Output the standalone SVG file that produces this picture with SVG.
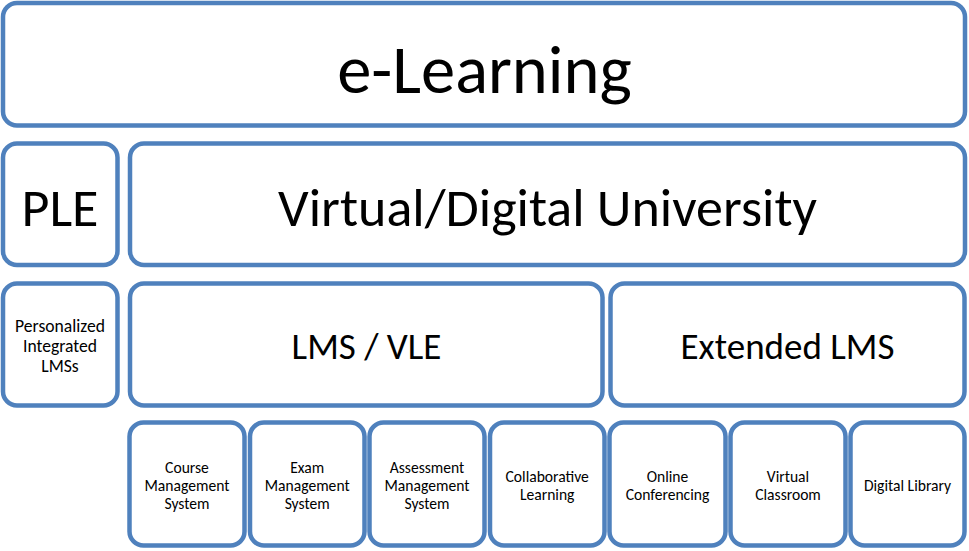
<svg xmlns="http://www.w3.org/2000/svg" width="969" height="551" viewBox="0 0 969 551">
<style>
.box{fill:#ffffff;stroke:#4F81BD;stroke-width:4.5}
text{font-family:Carlito,Calibri,Lato,"Liberation Sans",sans-serif;fill:#000000;text-anchor:middle}
.t1{font-size:68.5px}
.t2{font-size:54px}
.t3{font-size:37px}
.t4{font-size:17.6px}
.t5{font-size:15.6px}
</style>
<rect width="969" height="551" fill="#ffffff"/>
<g id="e-learning"><rect class="box" x="3" y="3" width="962" height="122.5" rx="14"/><text class="t1" x="484.5" y="93">e-Learning</text></g>
<g id="ple"><rect class="box" x="3" y="143.5" width="114.5" height="121.5" rx="14"/><text class="t2" x="60" y="226">PLE</text></g>
<g id="virtual-digital-university"><rect class="box" x="130" y="143.5" width="835" height="121.5" rx="14"/><text class="t2" x="547.5" y="226">Virtual/Digital University</text></g>
<g id="personalized-lms"><rect class="box" x="3" y="283.5" width="114.5" height="122" rx="14"/><text class="t4" x="60"><tspan x="60" y="332">Personalized</tspan><tspan x="60" y="352">Integrated</tspan><tspan x="60" y="372">LMSs</tspan></text></g>
<g id="lms-vle"><rect class="box" x="130" y="283.5" width="472.5" height="122" rx="14"/><text class="t3" x="366.5" y="359">LMS / VLE</text></g>
<g id="extended-lms"><rect class="box" x="610.5" y="283.5" width="354" height="122" rx="14"/><text class="t3" x="787.5" y="359">Extended LMS</text></g>
<g id="course-ms"><rect class="box" x="129.5" y="422.5" width="115" height="123" rx="14"/><text class="t5"><tspan x="187" y="473">Course</tspan><tspan x="187" y="491">Management</tspan><tspan x="187" y="509">System</tspan></text></g>
<g id="exam-ms"><rect class="box" x="250" y="422.5" width="114.5" height="123" rx="14"/><text class="t5"><tspan x="307.2" y="473">Exam</tspan><tspan x="307.2" y="491">Management</tspan><tspan x="307.2" y="509">System</tspan></text></g>
<g id="assessment-ms"><rect class="box" x="369.5" y="422.5" width="115" height="123" rx="14"/><text class="t5"><tspan x="427" y="473">Assessment</tspan><tspan x="427" y="491">Management</tspan><tspan x="427" y="509">System</tspan></text></g>
<g id="collaborative-learning"><rect class="box" x="490" y="422.5" width="114.5" height="123" rx="14"/><text class="t5"><tspan x="547.2" y="481.5">Collaborative</tspan><tspan x="547.2" y="499.5">Learning</tspan></text></g>
<g id="online-conferencing"><rect class="box" x="609.5" y="422.5" width="116" height="123" rx="14"/><text class="t5"><tspan x="667.5" y="481.5">Online</tspan><tspan x="667.5" y="499.5">Conferencing</tspan></text></g>
<g id="virtual-classroom"><rect class="box" x="730.5" y="422.5" width="115" height="123" rx="14"/><text class="t5"><tspan x="788" y="481.5">Virtual</tspan><tspan x="788" y="499.5">Classroom</tspan></text></g>
<g id="digital-library"><rect class="box" x="850.5" y="422.5" width="114" height="123" rx="14"/><text class="t5" x="907.5" y="491">Digital Library</text></g>
<g id="connectors"></g>
</svg>
